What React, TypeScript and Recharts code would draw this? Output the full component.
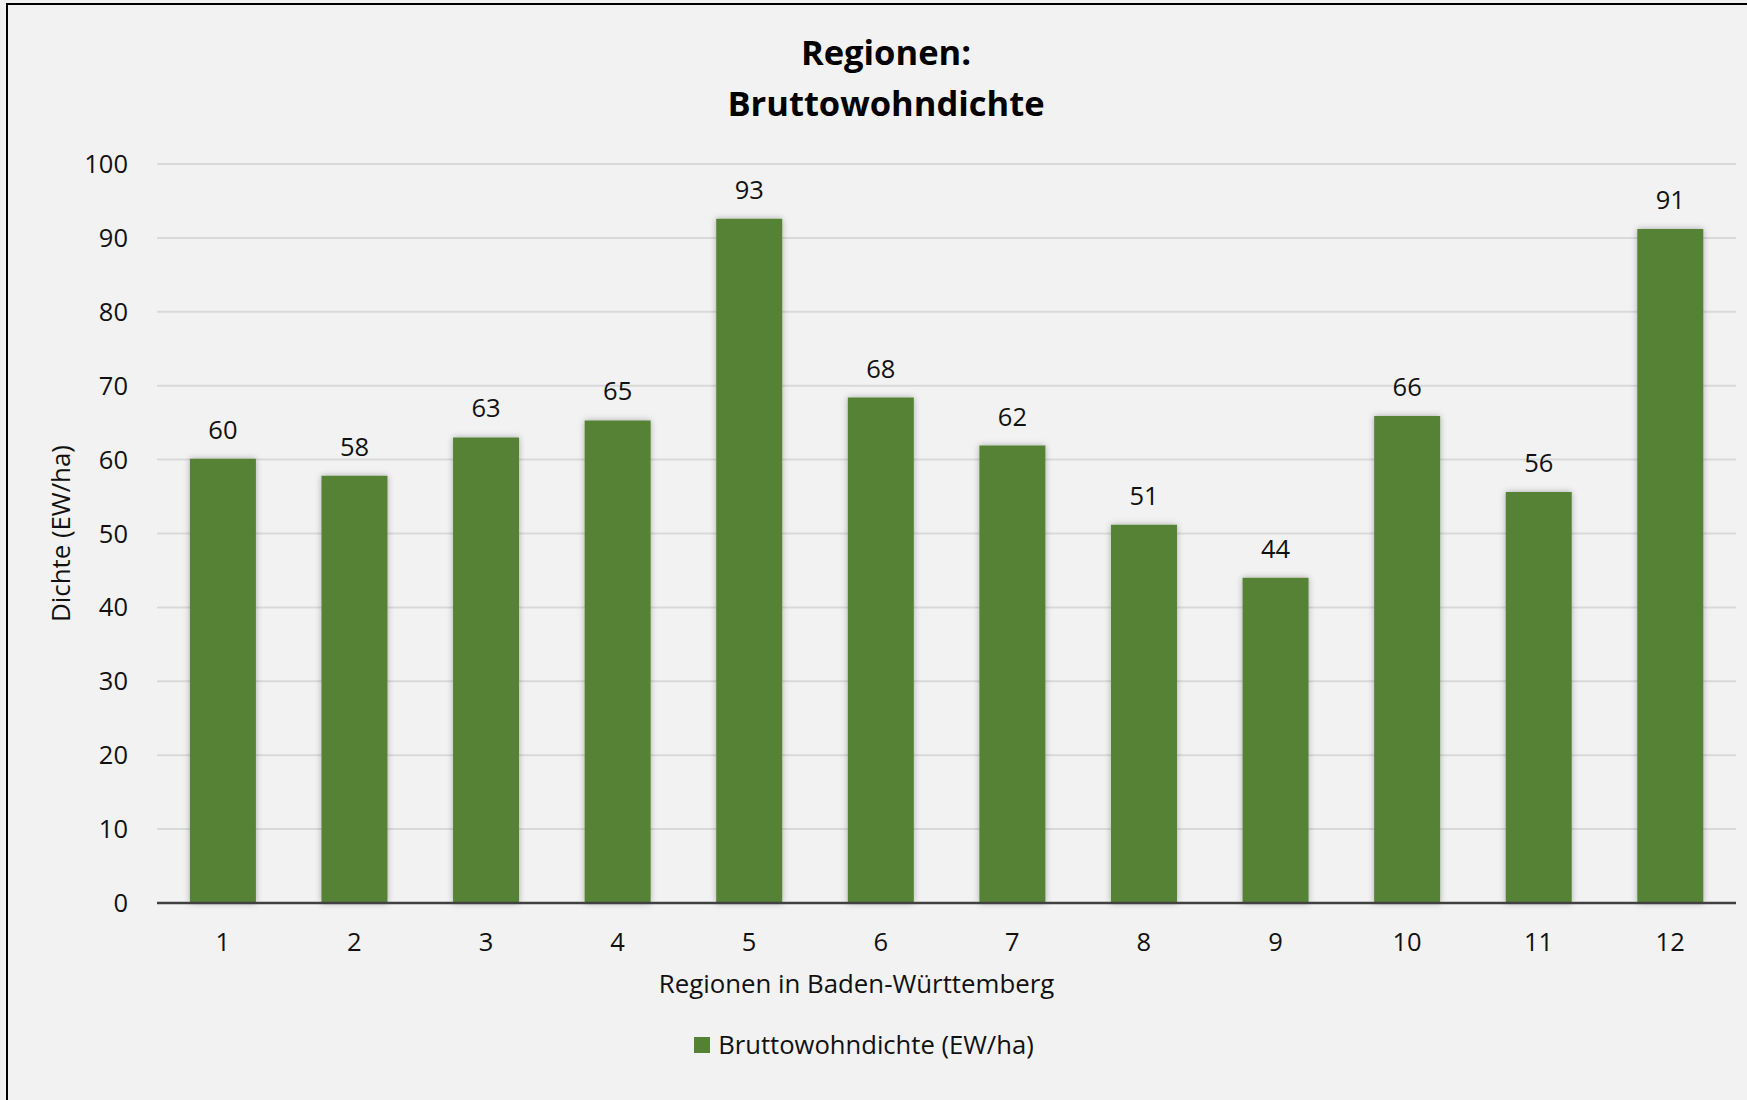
import React from 'react';
import { BarChart, Bar, XAxis, YAxis, CartesianGrid, LabelList, Legend } from 'recharts';

// values
const regions = ['1', '2', '3', '4', '5', '6', '7', '8', '9', '10', '11', '12'];
const density = [60.1, 57.8, 63.0, 65.3, 92.6, 68.4, 61.9, 51.2, 44.0, 65.9, 55.6, 91.2];
const yTicks = [0, 10, 20, 30, 40, 50, 60, 70, 80, 90, 100];

const titleLines = ['Regionen:', 'Bruttowohndichte'];
const seriesName = 'Bruttowohndichte (EW/ha)';
const xTitle = 'Regionen in Baden-Württemberg';
const yTitle = 'Dichte (EW/ha)';

const W = 1747;
const H = 1100;
const FONT = '"Open Sans", sans-serif';
const GREEN = '#548235';
const TEXT = '#111';

const data = regions.map((region, i) => ({ region, value: density[i] }));

function LegendContent({ payload }: any) {
  return (
    <div style={{ display: 'flex', justifyContent: 'center', alignItems: 'center', fontFamily: FONT, fontSize: 25.6, color: TEXT }}>
      {(payload || []).map((p: any) => (
        <div key={p.value} style={{ display: 'flex', alignItems: 'center' }}>
          <span style={{ display: 'inline-block', width: 16, height: 16, background: p.color, marginRight: 8 }} />
          <span>{p.value}</span>
        </div>
      ))}
    </div>
  );
}

export default function App() {
  return (
    <div style={{ position: 'absolute', left: 0, top: 0, width: W, height: H, overflow: 'hidden', background: '#f2f2f2' }}>
      {/* frame of the chart area, only top and left edges are inside the picture */}
      <div
        style={{
          position: 'absolute',
          left: 6,
          top: 3,
          width: W + 50,
          height: H + 50,
          borderTop: '2px solid #000',
          borderLeft: '2px solid #000',
          background: '#f2f2f2',
        }}
      />
      <div
        style={{
          position: 'absolute',
          left: 0,
          top: 26,
          width: 1772,
          textAlign: 'center',
          fontFamily: FONT,
          fontWeight: 700,
          fontSize: 34.5,
          lineHeight: '51px',
          color: '#000',
        }}
      >
        {titleLines.map((t) => (
          <div key={t}>{t}</div>
        ))}
      </div>
      <div style={{ position: 'absolute', left: 0, top: 0 }}>
        <BarChart
          width={W}
          height={H}
          data={data}
          margin={{ top: 164, right: 11, bottom: 97, left: 0 }}
          barCategoryGap="25%"
        >
          <defs>
            <filter id="barShadow" x="-20%" y="-5%" width="140%" height="110%">
              <feDropShadow dx="0" dy="0" stdDeviation="3" floodColor="#000" floodOpacity="0.3" />
            </filter>
          </defs>
          <CartesianGrid vertical={false} stroke="#d9d9d9" strokeWidth={2} />
          <XAxis
            dataKey="region"
            height={100}
            tickLine={false}
            tickSize={0}
            tickMargin={30}
            axisLine={{ stroke: '#404040', strokeWidth: 2.5 }}
            tick={{ fill: TEXT, fontSize: 25.5, fontFamily: FONT }}
            label={{
              value: xTitle,
              position: 'insideBottom',
              offset: 10,
              dx: -90,
              fill: TEXT,
              fontSize: 25.8,
              fontFamily: FONT,
            }}
          />
          <YAxis
            width={157}
            domain={[0, 100]}
            ticks={yTicks}
            interval={0}
            axisLine={false}
            tickLine={false}
            tickSize={0}
            tickMargin={29}
            tick={{ fill: TEXT, fontSize: 25.5, fontFamily: FONT }}
            label={{
              value: yTitle,
              angle: -90,
              position: 'insideLeft',
              offset: 61,
              fill: TEXT,
              fontSize: 25.8,
              fontFamily: FONT,
              style: { textAnchor: 'middle' },
            }}
          />
          <Legend
            layout="horizontal"
            verticalAlign="middle"
            align="center"
            content={<LegendContent />}
            wrapperStyle={{ top: 1027, left: 0, width: 1728 }}
          />
          <Bar dataKey="value" name={seriesName} fill={GREEN} filter="url(#barShadow)" isAnimationActive={false}>
            <LabelList
              dataKey="value"
              position="top"
              offset={20}
              formatter={(v: any) => Math.round(Number(v))}
              fill={TEXT}
              fontSize={25.5}
              fontFamily={FONT}
            />
          </Bar>
        </BarChart>
      </div>
    </div>
  );
}
